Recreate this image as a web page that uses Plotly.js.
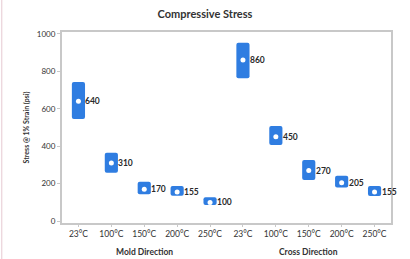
<!DOCTYPE html>
<html>
<head>
<meta charset="utf-8">
<script src="https://cdn.plot.ly/plotly-3.0.1.min.js"></script>
<style>html,body{margin:0;padding:0;background:#fff;}#chart{width:410px;height:259px;}</style>
</head>
<body>
<div id="chart"></div>
<script>
const categories = ['23°C','100°C','150°C','200°C','250°C','23°C','100°C','150°C','200°C','250°C'];
const groups = ['Mold Direction','Cross Direction'];
const values = [640,310,170,155,100,860,450,270,205,155];
const lows   = [545,258,143,135,86,763,406,219,180,134];
const highs  = [743,365,210,187,128,953,508,326,242,187];
const yTicks = [0,200,400,600,800,1000];

const xs = categories.map((c,i)=>i);
const font = 'Lato, "Open Sans", sans-serif';

const traces = [
  {
    type:'bar', x: xs, base: lows, y: highs.map((h,i)=>h-lows[i]),
    width: 0.4, marker:{color:'#2f7de1', cornerradius:2, line:{width:0}},
    hoverinfo:'skip'
  },
  {
    type:'scatter', mode:'markers', x: xs, y: values,
    marker:{color:'#ffffff', size:5}, hoverinfo:'skip'
  }
];

const annotations = values.map((v,i)=>({
  x: i, y: v, xref:'x', yref:'y', text: '<b>'+v+'</b>', showarrow:false,
  xanchor:'left', xshift: 5, font:{family:font, size:8.5, color:'#2a2a2a'}
}));
groups.forEach((g,k)=>{
  annotations.push({
    x: 2 + 5*k, y: -0.115, xref:'x', yref:'paper', yanchor:'top', text: '<b>'+g+'</b>', showarrow:false,
    font:{family:font, size:8.5, color:'#333'}
  });
});

const layout = {
  width: 410, height: 259,
  margin:{l:62, r:19, t:32, b:36},
  paper_bgcolor:'#fff', plot_bgcolor:'#fff',
  showlegend:false,
  title:{text:'<b>Compressive Stress</b>', x:0.5, xanchor:'center', y:0.945, yanchor:'middle', font:{family:font, size:11, color:'#333'}},
  xaxis:{
    range:[-0.5,9.5], tickmode:'array', tickvals: xs, ticktext: categories,
    showgrid:false, zeroline:false, showline:true, linecolor:'#c8c8c8', linewidth:2, mirror:true,
    ticks:'outside', ticklen:2, tickcolor:'#c8c8c8',
    tickfont:{family:font, size:8.5, color:'#333'}
  },
  yaxis:{
    range:[-10,1010], tickmode:'array', tickvals: yTicks,
    showgrid:false, zeroline:false, showline:true, linecolor:'#c8c8c8', linewidth:2, mirror:true,
    ticks:'outside', ticklen:3, tickcolor:'#c8c8c8',
    tickfont:{family:font, size:8, color:'#333'},
    title:{text:'<b>Stress @ 1% Strain (psi)</b>', standoff:6, font:{family:font, size:7, color:'#333'}}
  },
  annotations: annotations,
  shapes:[{type:'line', xref:'paper', yref:'paper', x0:-0.183, x1:-0.183, y0:-0.2, y1:1.2, line:{color:'#e6c9d2', width:1}}]
};

Plotly.newPlot('chart', traces, layout, {staticPlot:true, displayModeBar:false});
</script>
</body>
</html>
